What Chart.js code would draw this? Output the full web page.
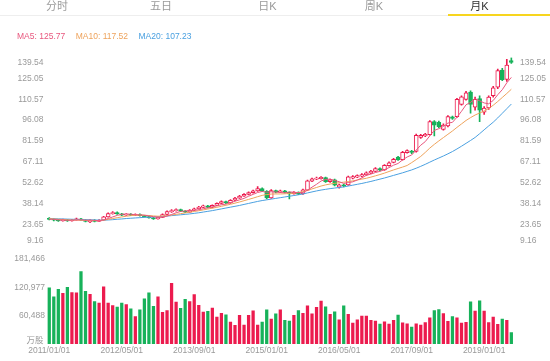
<!DOCTYPE html>
<html>
<head>
<meta charset="utf-8">
<script src="https://cdn.jsdelivr.net/npm/chart.js@4.4.1/dist/chart.umd.min.js"></script>
<style>
  body { margin: 0; background: #fff; font-family: "Liberation Sans", Arial, "Noto Sans CJK SC", sans-serif; }
  #wrap { position: relative; width: 550px; height: 361px; overflow: hidden; }
  #kline { position: absolute; left: 0; top: 0; }
  .tabs { position: absolute; left: 0; top: 0; width: 550px; height: 15px; border-bottom: 1px solid #eee; }
  .tab { position: absolute; top: 0; width: 106px; text-align: center; font-size: 11px; line-height: 13px; color: #9a9a9a; }
  .tab.on { color: #333; }
  .bar-on { position: absolute; left: 448px; top: 14px; width: 102px; height: 2px; background: #f7d51e; }
  .legend { position: absolute; left: 17px; top: 31px; font-size: 8.5px; line-height: 11px; white-space: nowrap; }
  .legend span { margin-right: 10.5px; }
</style>
</head>
<body>
<div id="wrap">
  <canvas id="kline" width="550" height="361"></canvas>
  <div class="tabs">
    <div class="tab" style="left:4px">分时</div>
    <div class="tab" style="left:108px">五日</div>
    <div class="tab" style="left:214.5px">日K</div>
    <div class="tab" style="left:321px">周K</div>
    <div class="tab on" style="left:426.5px">月K</div>
  </div>
  <div class="bar-on"></div>
  <div class="legend" id="legend"></div>
</div>
<script>
// monthly bars, 2011/01 - 2019/07
const months = [
  '2011/01/01','2011/02/01','2011/03/01','2011/04/01','2011/05/01','2011/06/01','2011/07/01','2011/08/01','2011/09/01','2011/10/01','2011/11/01','2011/12/01',
  '2012/01/01','2012/02/01','2012/03/01','2012/04/01','2012/05/01','2012/06/01','2012/07/01','2012/08/01','2012/09/01','2012/10/01','2012/11/01','2012/12/01',
  '2013/01/01','2013/02/01','2013/03/01','2013/04/01','2013/05/01','2013/06/01','2013/07/01','2013/08/01','2013/09/01','2013/10/01','2013/11/01','2013/12/01',
  '2014/01/01','2014/02/01','2014/03/01','2014/04/01','2014/05/01','2014/06/01','2014/07/01','2014/08/01','2014/09/01','2014/10/01','2014/11/01','2014/12/01',
  '2015/01/01','2015/02/01','2015/03/01','2015/04/01','2015/05/01','2015/06/01','2015/07/01','2015/08/01','2015/09/01','2015/10/01','2015/11/01','2015/12/01',
  '2016/01/01','2016/02/01','2016/03/01','2016/04/01','2016/05/01','2016/06/01','2016/07/01','2016/08/01','2016/09/01','2016/10/01','2016/11/01','2016/12/01',
  '2017/01/01','2017/02/01','2017/03/01','2017/04/01','2017/05/01','2017/06/01','2017/07/01','2017/08/01','2017/09/01','2017/10/01','2017/11/01','2017/12/01',
  '2018/01/01','2018/02/01','2018/03/01','2018/04/01','2018/05/01','2018/06/01','2018/07/01','2018/08/01','2018/09/01','2018/10/01','2018/11/01','2018/12/01',
  '2019/01/01','2019/02/01','2019/03/01','2019/04/01','2019/05/01','2019/06/01','2019/07/01'
];

const openPrice = [
  27.8, 27.2, 26.6, 26.0, 26.8, 26.0, 26.7, 27.4, 26.5, 25.2,
  26.4, 25.6, 26.4, 28.8, 31.0, 31.8, 30.8, 30.0, 30.6, 29.8,
  30.4, 29.6, 28.9, 28.1, 27.4, 28.4, 30.4, 32.2, 33.0, 33.8,
  32.8, 32.1, 33.4, 34.4, 35.4, 36.4, 35.3, 36.8, 38.1, 39.4,
  38.4, 40.3, 41.8, 43.2, 44.4, 45.6, 46.8, 48.4, 46.6, 42.0,
  47.0, 45.9, 46.9, 45.8, 44.8, 45.9, 44.8, 47.4, 53.6, 55.0,
  55.4, 56.0, 53.2, 54.6, 49.4, 51.0, 51.0, 55.6, 56.4, 57.0,
  58.0, 59.2, 60.4, 62.4, 61.4, 64.4, 66.6, 70.4, 68.6, 73.4,
  74.6, 74.2, 84.0, 85.0, 86.0, 95.0, 94.5, 89.6, 92.0, 98.3,
  98.5, 107.0, 110.5, 115.5, 105.0, 111.0, 101.5, 104.5, 113.0, 119.0,
  130.8, 124.4, 137.5
];
const highPrice = [
  28.3, 27.6, 27.0, 27.2, 27.1, 27.0, 27.9, 27.7, 26.8, 26.8,
  26.8, 26.8, 29.2, 31.6, 32.4, 32.2, 31.2, 31.0, 31.0, 30.8,
  30.8, 29.9, 29.2, 28.4, 28.7, 30.8, 32.9, 33.8, 34.3, 34.2,
  33.1, 33.8, 34.9, 36.1, 36.9, 36.7, 37.2, 38.6, 39.9, 39.8,
  40.8, 42.3, 43.7, 44.9, 46.2, 47.4, 49.8, 48.9, 47.0, 47.8,
  47.4, 47.3, 47.2, 46.2, 46.3, 46.2, 48.0, 54.4, 55.8, 56.4,
  56.8, 56.4, 55.0, 55.0, 51.6, 51.4, 57.2, 57.4, 58.0, 58.8,
  60.0, 61.2, 63.0, 62.8, 65.2, 67.0, 69.4, 70.8, 74.4, 75.4,
  75.0, 86.4, 86.2, 86.8, 95.8, 95.8, 95.4, 93.4, 99.2, 98.8,
  111.2, 113.0, 116.0, 116.5, 112.0, 113.0, 105.5, 113.0, 119.5, 131.5,
  132.0, 138.4, 139.5
];
const lowPrice = [
  26.6, 26.0, 25.6, 25.7, 25.6, 25.7, 26.4, 26.2, 25.2, 24.8,
  25.2, 25.4, 26.2, 28.5, 30.6, 30.4, 29.6, 29.7, 29.5, 29.5,
  29.3, 28.6, 27.8, 27.0, 27.1, 28.2, 30.2, 31.9, 32.7, 32.4,
  31.7, 31.9, 33.1, 34.1, 35.1, 35.0, 35.0, 36.5, 37.8, 38.0,
  38.1, 40.0, 41.5, 42.9, 44.1, 45.3, 46.5, 46.2, 41.2, 41.6,
  45.4, 45.6, 45.4, 41.2, 44.5, 44.2, 44.4, 47.0, 53.2, 54.6,
  55.0, 52.8, 52.8, 50.2, 48.8, 49.6, 50.6, 55.2, 56.0, 56.6,
  57.6, 58.8, 60.0, 60.8, 61.0, 64.0, 66.2, 68.0, 68.2, 73.0,
  72.8, 73.8, 83.4, 84.5, 85.6, 85.0, 90.8, 89.0, 91.4, 96.6,
  98.0, 106.4, 110.0, 100.8, 103.0, 95.0, 100.0, 103.5, 112.0, 118.0,
  123.5, 123.0, 135.5
];
const closePrice = [
  27.0, 26.4, 26.0, 26.8, 26.0, 26.7, 27.4, 26.5, 25.6, 26.4,
  25.6, 26.4, 28.8, 31.0, 31.8, 30.8, 30.0, 30.6, 29.8, 30.4,
  29.6, 28.9, 28.1, 27.4, 28.4, 30.4, 32.4, 33.2, 33.8, 32.8,
  32.1, 33.4, 34.4, 35.6, 36.4, 35.3, 36.8, 38.1, 39.4, 38.4,
  40.3, 41.8, 43.2, 44.4, 45.6, 46.8, 48.4, 46.6, 42.0, 47.0,
  45.9, 46.9, 45.8, 44.8, 45.9, 44.6, 47.6, 53.8, 55.2, 55.8,
  56.2, 53.2, 54.6, 50.8, 51.0, 50.2, 56.6, 56.8, 57.4, 58.2,
  59.4, 60.6, 62.4, 61.2, 64.6, 66.4, 68.8, 68.4, 73.6, 74.8,
  73.6, 85.4, 85.5, 86.2, 95.0, 92.5, 91.5, 92.6, 98.5, 97.2,
  110.5, 112.2, 115.0, 107.0, 110.5, 103.0, 104.5, 112.0, 118.5, 130.5,
  124.2, 134.4, 136.2
];
const volume = [
  120400, 101500, 117200, 108900, 121300, 110200, 110000, 155000, 113000, 106800,
  91200, 87700, 122400, 87900, 82800, 79600, 88100, 85000, 75800, 59000,
  73600, 97000, 109700, 81200, 101200, 68000, 72200, 130000, 90300, 77000,
  96200, 91200, 106100, 83000, 69000, 70300, 77200, 58200, 66000, 63000,
  47400, 40300, 61600, 41000, 61800, 71400, 41200, 47400, 73600, 53800,
  65000, 73800, 51000, 49400, 61900, 72100, 66300, 82000, 65100, 79000,
  92000, 80200, 64000, 69300, 52400, 82000, 64200, 45300, 52300, 60100,
  60200, 51100, 49400, 43100, 48200, 43200, 51000, 62300, 46100, 43800,
  36800, 43800, 41100, 46200, 56700, 72200, 74300, 65800, 49300, 59400,
  56700, 45100, 46700, 90600, 70700, 92700, 70700, 46300, 58000, 42400,
  53700, 51000, 25300
];

const ma5 = [
  27.2, 27.0, 26.7, 26.6, 26.4, 26.4, 26.6, 26.7, 26.4, 26.5,
  26.3, 26.1, 26.6, 27.6, 28.7, 29.8, 30.5, 30.8, 30.6, 30.3,
  30.1, 29.9, 29.4, 28.9, 28.5, 28.6, 29.3, 30.4, 31.6, 32.5,
  32.9, 33.1, 33.3, 33.7, 34.4, 35.0, 35.7, 36.4, 37.2, 37.6,
  38.6, 39.6, 40.6, 41.6, 43.1, 44.4, 45.7, 46.4, 45.9, 46.2,
  46.0, 45.7, 45.5, 46.1, 45.9, 45.6, 45.7, 47.3, 49.4, 51.4,
  53.7, 54.8, 55.0, 54.1, 53.2, 52.0, 52.6, 53.1, 54.4, 55.8,
  57.7, 58.5, 59.6, 60.4, 61.6, 63.0, 64.7, 65.9, 68.4, 70.4,
  71.8, 75.2, 78.6, 81.1, 85.1, 88.9, 90.1, 91.6, 94.0, 94.5,
  98.1, 102.2, 106.7, 108.4, 111.0, 109.5, 108.0, 107.4, 109.7, 113.7,
  117.2, 122.0, 125.77
];
const ma10 = [
  27.5, 27.3, 27.1, 26.9, 26.7, 26.5, 26.5, 26.4, 26.3, 26.2,
  26.1, 26.2, 26.5, 27.0, 27.6, 28.2, 28.7, 29.2, 29.6, 29.9,
  30.0, 29.9, 29.7, 29.4, 29.2, 29.3, 29.6, 30.0, 30.5, 31.0,
  31.5, 32.0, 32.5, 33.0, 33.6, 34.2, 34.8, 35.4, 36.1, 36.8,
  37.5, 38.3, 39.1, 40.0, 40.9, 41.8, 42.8, 43.7, 44.3, 44.6,
  44.7, 44.7, 44.8, 45.0, 45.3, 45.7, 46.3, 47.2, 48.2, 49.2,
  50.2, 51.0, 51.6, 52.1, 52.5, 52.9, 53.3, 53.8, 54.4, 55.0,
  55.6, 56.4, 57.3, 58.2, 59.2, 60.3, 61.4, 62.4, 63.4, 64.5,
  66.5, 68.6, 70.8, 73.6, 76.6, 79.2, 81.6, 83.9, 86.2, 88.5,
  91.0, 93.4, 95.8, 97.8, 99.6, 101.0, 102.4, 104.2, 106.4, 109.0,
  111.8, 114.6, 117.52
];
const ma20 = [
  27.6, 27.5, 27.4, 27.3, 27.2, 27.1, 27.0, 26.9, 26.8, 26.7,
  26.6, 26.5, 26.5, 26.6, 26.8, 27.1, 27.3, 27.6, 27.8, 28.0,
  28.2, 28.4, 28.5, 28.6, 28.8, 29.0, 29.3, 29.6, 29.9, 30.2,
  30.5, 30.8, 31.2, 31.6, 32.1, 32.6, 33.1, 33.7, 34.3, 34.9,
  35.5, 36.1, 36.7, 37.4, 38.1, 38.8, 39.5, 40.1, 40.6, 41.1,
  41.6, 42.1, 42.6, 43.1, 43.6, 44.1, 44.7, 45.4, 46.1, 46.8,
  47.4, 47.9, 48.4, 48.8, 49.2, 49.6, 50.2, 50.8, 51.4, 52.0,
  52.7, 53.4, 54.2, 55.0, 55.8, 56.7, 57.6, 58.5, 59.4, 60.4,
  61.4, 62.6, 63.9, 65.3, 66.8, 68.3, 69.7, 71.1, 72.6, 74.2,
  76.0, 77.9, 79.9, 81.9, 84.0, 86.6, 89.3, 92.0, 94.6, 97.6,
  100.8, 104.0, 107.23
];

// axis tick labels
const priceTicks = [139.54, 125.05, 110.57, 96.08, 81.59, 67.11, 52.62, 38.14, 23.65, 9.16];
const volTicks = [181466, 120977, 60488];
const volUnit = '万股';
const dateTickEvery = 16;

const UP = '#ec1b4e';
const DOWN = '#17b25a';
const MA_COLORS = ['#e8577e', '#eea35c', '#4aa0e0'];
const TICK_COLOR = '#9a9a9a';
const FONT = '"Liberation Sans", Arial, sans-serif';

document.getElementById('legend').innerHTML =
  '<span style="color:' + MA_COLORS[0] + '">MA5: ' + ma5[ma5.length - 1].toFixed(2) + '</span>' +
  '<span style="color:' + MA_COLORS[1] + '">MA10: ' + ma10[ma10.length - 1].toFixed(2) + '</span>' +
  '<span style="color:' + MA_COLORS[2] + '">MA20: ' + ma20[ma20.length - 1].toFixed(2) + '</span>';

const isUp = closePrice.map((c, i) => c >= openPrice[i]);
const bodies = openPrice.map((o, i) => [o, closePrice[i]]);
const wicks = lowPrice.map((l, i) => [l, highPrice[i]]);

// draws the value labels of both y axes, edge labels kept inside the axis
const sideLabels = {
  id: 'sideLabels',
  afterDraw(chart) {
    const { ctx, scales } = chart;
    const py = scales.y, vy = scales.yv;
    ctx.save();
    ctx.font = '8.5px ' + FONT;
    ctx.fillStyle = TICK_COLOR;
    ctx.textBaseline = 'middle';
    priceTicks.forEach(v => {
      let y = py.getPixelForValue(v);
      y = Math.min(Math.max(y, py.top + 4.7), py.bottom - 4.4);
      ctx.textAlign = 'right';
      ctx.fillText(v.toFixed(2), 43.5, y);
      ctx.textAlign = 'left';
      ctx.fillText(v.toFixed(2), 520, y);
    });
    ctx.textAlign = 'right';
    volTicks.forEach(v => {
      ctx.fillText(v.toLocaleString('en-US'), 45, vy.getPixelForValue(v));
    });
    ctx.font = '8.5px "Noto Sans CJK SC", sans-serif';
    ctx.fillText(volUnit, 43.5, vy.getPixelForValue(0) - 4.7);
    ctx.restore();
  }
};

new Chart(document.getElementById('kline'), {
  data: {
    labels: months,
    datasets: [
      { type: 'line', label: 'MA5', data: ma5, yAxisID: 'y', borderColor: MA_COLORS[0], borderWidth: 1, pointRadius: 0, order: 0 },
      { type: 'line', label: 'MA10', data: ma10, yAxisID: 'y', borderColor: MA_COLORS[1], borderWidth: 1, pointRadius: 0, order: 0 },
      { type: 'line', label: 'MA20', data: ma20, yAxisID: 'y', borderColor: MA_COLORS[2], borderWidth: 1, pointRadius: 0, order: 0 },
      {
        type: 'bar', label: 'body', data: bodies, yAxisID: 'y', grouped: false, order: 1,
        backgroundColor: isUp.map(u => u ? '#fff' : DOWN),
        borderColor: isUp.map(u => u ? UP : DOWN),
        borderWidth: 1, borderSkipped: false, barThickness: 4
      },
      {
        type: 'bar', label: 'wick', data: wicks, yAxisID: 'y', grouped: false, order: 2,
        backgroundColor: isUp.map(u => u ? UP : DOWN), barThickness: 1
      },
      {
        type: 'bar', label: 'vol', data: volume, yAxisID: 'yv', grouped: false, order: 3,
        backgroundColor: isUp.map(u => u ? UP : DOWN),
        barPercentage: 1, categoryPercentage: 0.72
      }
    ]
  },
  options: {
    responsive: false,
    animation: false,
    devicePixelRatio: 1,
    layout: { padding: { left: 47, right: 36.4, top: 57.6, bottom: 2.8 } },
    plugins: { legend: { display: false }, tooltip: { enabled: false } },
    scales: {
      x: {
        type: 'category',
        offset: true,
        grid: { display: false, drawTicks: false },
        border: { display: false },
        ticks: {
          autoSkip: false, maxRotation: 0, padding: 2,
          color: TICK_COLOR, font: { size: 8.5, family: FONT },
          callback: function (v, i) { return i % dateTickEvery === 0 ? this.getLabelForValue(v) : ''; }
        }
      },
      // left boxes are stacked from the highest weight down, so price sits on top
      y: {
        type: 'linear', position: 'left', stack: 'k', stackWeight: 187.5, weight: 1,
        min: priceTicks[priceTicks.length - 1], max: priceTicks[0],
        display: false
      },
      yv: {
        type: 'linear', position: 'left', stack: 'k', stackWeight: 99, weight: 0,
        min: 0, max: 211000,
        display: false
      }
    }
  },
  plugins: [sideLabels]
});
</script>
</body>
</html>
